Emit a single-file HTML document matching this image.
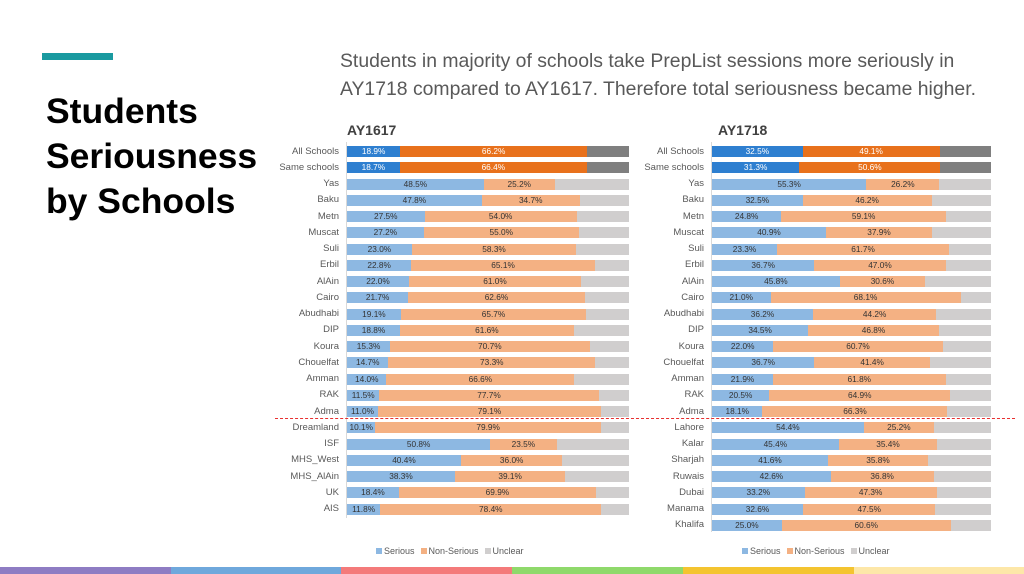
<!DOCTYPE html>
<html><head><meta charset="utf-8"><style>
body{margin:0;width:1024px;height:574px;position:relative;background:#fff;font-family:"Liberation Sans",sans-serif;overflow:hidden}
.abs{position:absolute}
.lbl{position:absolute;font-size:9.5px;color:#595959;text-align:right;width:100px;line-height:12px}
.bar{position:absolute;height:11px;display:flex}
.bar div{height:11px;font-size:8.3px;line-height:11px;text-align:center;color:#333;overflow:hidden}
.leg{position:absolute;font-size:9px;color:#595959}
.sw{display:inline-block;width:6px;height:6px;margin:0 2px 0 6px}
</style></head><body>
<div class="abs" style="left:42px;top:53px;width:71px;height:7px;background:#1a9aa0"></div>
<div class="abs" style="left:46px;top:89px;font-size:35.5px;font-weight:bold;line-height:45px;color:#000">Students<br>Seriousness<br>by Schools</div>
<div class="abs" style="left:340px;top:47px;font-size:19.4px;line-height:28px;color:#595959">Students in majority of schools take PrepList sessions more seriously in<br>AY1718 compared to AY1617. Therefore total seriousness became higher.</div>
<div class="abs" style="left:347px;top:122px;font-size:14px;font-weight:bold;color:#404040">AY1617</div>
<div class="abs" style="left:718px;top:122px;font-size:14px;font-weight:bold;color:#404040">AY1718</div>
<div class="abs" style="left:346px;top:142px;width:1px;height:376px;background:#d9d9d9"></div>
<div class="abs" style="left:711px;top:142px;width:1px;height:390px;background:#d9d9d9"></div>
<div class="abs" style="left:275px;top:418px;width:740px;border-top:1.5px dashed #e83030"></div>
<div id="c"></div>
<div class="leg" style="left:370px;top:546px"><span class="sw" style="background:#8db8e2"></span>Serious<span class="sw" style="background:#f4b183"></span>Non-Serious<span class="sw" style="background:#d0cece"></span>Unclear</div>
<div class="leg" style="left:736px;top:546px"><span class="sw" style="background:#8db8e2"></span>Serious<span class="sw" style="background:#f4b183"></span>Non-Serious<span class="sw" style="background:#d0cece"></span>Unclear</div>
<div class="abs" style="left:0;top:567px;width:171px;height:7px;background:#8e7cc3"></div>
<div class="abs" style="left:171px;top:567px;width:170px;height:7px;background:#6fa8dc"></div>
<div class="abs" style="left:341px;top:567px;width:171px;height:7px;background:#f47a7a"></div>
<div class="abs" style="left:512px;top:567px;width:171px;height:7px;background:#8fd96b"></div>
<div class="abs" style="left:683px;top:567px;width:171px;height:7px;background:#f4c430"></div>
<div class="abs" style="left:854px;top:567px;width:170px;height:7px;background:#fde7a8"></div>
<script>
var L=[["All Schools",18.9,66.2],["Same schools",18.7,66.4],["Yas",48.5,25.2],["Baku",47.8,34.7],["Metn",27.5,54.0],["Muscat",27.2,55.0],["Suli",23.0,58.3],["Erbil",22.8,65.1],["AlAin",22.0,61.0],["Cairo",21.7,62.6],["Abudhabi",19.1,65.7],["DIP",18.8,61.6],["Koura",15.3,70.7],["Chouelfat",14.7,73.3],["Amman",14.0,66.6],["RAK",11.5,77.7],["Adma",11.0,79.1],["Dreamland",10.1,79.9],["ISF",50.8,23.5],["MHS_West",40.4,36.0],["MHS_AlAin",38.3,39.1],["UK",18.4,69.9],["AIS",11.8,78.4]];
var R=[["All Schools",32.5,49.1],["Same schools",31.3,50.6],["Yas",55.3,26.2],["Baku",32.5,46.2],["Metn",24.8,59.1],["Muscat",40.9,37.9],["Suli",23.3,61.7],["Erbil",36.7,47.0],["AlAin",45.8,30.6],["Cairo",21.0,68.1],["Abudhabi",36.2,44.2],["DIP",34.5,46.8],["Koura",22.0,60.7],["Chouelfat",36.7,41.4],["Amman",21.9,61.8],["RAK",20.5,64.9],["Adma",18.1,66.3],["Lahore",54.4,25.2],["Kalar",45.4,35.4],["Sharjah",41.6,35.8],["Ruwais",42.6,36.8],["Dubai",33.2,47.3],["Manama",32.6,47.5],["Khalifa",25.0,60.6]];
var h="";
function draw(d,x0,w){d.forEach(function(r,i){var y=146+i*16.25;var dark=i<2;
var c1=dark?"#2e7fd0":"#8db8e2",c2=dark?"#e8711c":"#f4b183",c3=dark?"#7f7f7f":"#d0cece",tc=dark?"#fff":"#333";
h+='<div class="lbl" style="left:'+(x0-108)+'px;top:'+(y-0.5)+'px">'+r[0]+'</div>';
h+='<div class="bar" style="left:'+x0+'px;top:'+y+'px;width:'+w+'px"><div style="width:'+(r[1]*w/100)+'px;background:'+c1+';color:'+tc+'">'+r[1].toFixed(1)+'%</div><div style="width:'+(r[2]*w/100)+'px;background:'+c2+';color:'+tc+'">'+r[2].toFixed(1)+'%</div><div style="flex:1;background:'+c3+'"></div></div>';});}
draw(L,347,282);draw(R,712,279);
document.getElementById("c").innerHTML=h;
</script>
</body></html>
